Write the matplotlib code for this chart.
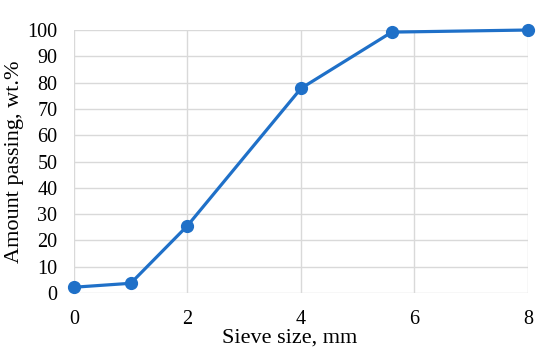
import matplotlib
matplotlib.use('Agg')
import matplotlib.pyplot as plt

# Sieve analysis data
sieve_size = [0, 1, 2, 4, 5.6, 8]
passing = [2.2, 3.7, 25.6, 77.8, 99.2, 100]

x_ticks = [0, 2, 4, 6, 8]
y_ticks = list(range(0, 101, 10))

plt.rcParams['font.family'] = ['Liberation Serif', 'DejaVu Serif']

fig = plt.figure(figsize=(5.5, 3.59), dpi=100)
ax = fig.add_axes([0.1345, 0.1838, 0.8255, 0.7326])

ax.plot(sieve_size, passing, color='#1f70c8', linewidth=2.3,
        marker='o', markersize=8.5, zorder=3, clip_on=False)

ax.set_xlim(0, 8)
ax.set_ylim(0, 100)
ax.set_xticks(x_ticks)
ax.set_yticks(y_ticks)
ax.grid(True, color='#d9d9d9', linewidth=1.0)
ax.set_axisbelow(True)
for s in ax.spines.values():
    s.set_visible(False)
ax.tick_params(length=0, labelsize=14.5, colors='black')
ax.tick_params(axis='x', pad=12)
ax.tick_params(axis='y', pad=12)

# x label sits a little left of centre in the original
ax.set_xlabel('Sieve size, mm', fontsize=16, labelpad=0)
ax.xaxis.label.set_x(0.474)
ax.set_ylabel('Amount passing, wt.%', fontsize=16, labelpad=2)

fig.savefig('out.png', dpi=100)
